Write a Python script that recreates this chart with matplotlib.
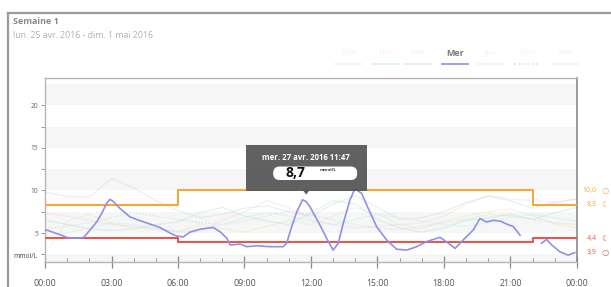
import numpy as np
import matplotlib
matplotlib.use("Agg")
import matplotlib.pyplot as plt
import matplotlib.transforms as mtransforms
from matplotlib.patches import FancyBboxPatch, Polygon, Rectangle
from matplotlib.lines import Line2D

plt.rcParams['font.family'] = ['Open Sans', 'DejaVu Sans']

# ---------------- data ----------------
title = "Semaine 1"
subtitle = "lun. 25 avr. 2016 - dim. 1 mai 2016"
days = ["Dim", "Lun", "Mar", "Mer", "Jeu", "Ven", "Sam"]
day_colors = ["#e6e3a6", "#9ee6c9", "#c4c4d0", "#8c8ce6", "#f0cfdc", "#b0b0b0", "#b9ecf0"]
active_day = "Mer"

xtick_labels = ["00:00", "03:00", "06:00", "09:00", "12:00", "15:00", "18:00", "21:00", "00:00"]
ytick_vals = [5, 10, 15, 20]

# Mer (active) glucose trace, hours / mmol/L
mer_h = [0.0, 0.08, 0.68, 0.98, 1.27, 1.58, 1.75, 2.03, 2.33, 2.56, 2.78, 2.93, 3.08, 3.38, 3.83,
         4.29, 4.74, 5.19, 5.64, 5.94, 6.24, 6.54, 6.99, 7.59, 7.9, 8.2, 8.35, 8.8, 9.1, 9.55,
         10.15, 10.75, 10.9, 11.13, 11.36, 11.62, 11.78, 11.95, 12.4, 12.78, 13.0, 13.23, 13.45,
         13.76, 13.98, 14.29, 14.51, 14.96, 15.41, 15.86, 16.32, 16.77, 17.22, 17.82, 18.2, 18.5,
         18.87, 19.32, 19.62, 19.92, 20.22, 20.53, 20.83, 21.13, 21.43, 21.9, 22.4, 22.63, 22.86,
         23.23, 23.6, 23.9]
mer_v = [5.3, 5.35, 4.8, 4.5, 4.4, 4.4, 4.5, 5.35, 6.3, 7.3, 8.5, 8.95, 8.7, 7.9, 6.9,
         6.45, 6.05, 5.65, 5.0, 4.65, 4.55, 5.1, 5.45, 5.65, 5.15, 4.4, 3.6, 3.7, 3.4, 3.5,
         3.4, 3.4, 3.8, 5.75, 7.5, 8.9, 8.7, 8.1, 5.95, 4.0, 3.0, 3.8, 6.1,
         8.9, 10.2, 9.65, 8.3, 5.75, 4.2, 3.1, 3.0, 3.4, 4.0, 4.5, 3.8, 3.2,
         4.2, 5.35, 6.7, 6.3, 6.5, 6.4, 6.05, 5.75, 4.75, np.nan, 3.8, 4.25, 3.6,
         2.8, 2.4, 2.7]

# other days (faint), hourly values
hours = list(range(25))
other_days = {
    "Dim": [2.6, 6.4, 7.2, 6.1, 5.6, 5.4, 5.2, 6.0, 5.5, 5.1, 5.8, 6.5, 6.0, 7.0, 8.0, 7.2, 6.0, 5.5, 6.4, 7.0, 7.5, 7.8, 7.0, 6.1, 5.6],
    "Lun": [6.5, 6.0, 5.5, 5.3, 5.5, 6.0, 6.3, 7.4, 8.0, 7.0, 6.4, 6.0, 7.4, 8.8, 8.4, 6.6, 5.6, 5.1, 5.6, 6.5, 6.8, 7.2, 6.6, 7.4, 8.0],
    "Mar": [9.8, 9.3, 9.2, 11.4, 10.3, 8.8, 7.6, 6.8, 7.2, 7.9, 8.2, 7.5, 7.0, 8.4, 9.4, 8.0, 6.6, 6.8, 7.5, 8.6, 9.3, 8.8, 7.9, 8.6, 9.0],
    "Jeu": [7.4, 7.0, 6.5, 6.0, 5.8, 5.5, 5.1, 5.2, 6.5, 7.5, 8.8, 8.0, 6.6, 6.0, 5.6, 5.8, 6.0, 6.2, 7.0, 8.4, 9.4, 9.0, 8.8, 8.6, 9.0],
    "Ven": [5.5, 5.8, 6.2, 6.8, 7.4, 7.0, 6.6, 6.2, 6.0, 6.4, 7.0, 7.6, 7.2, 6.5, 6.0, 5.6, 5.4, 5.8, 6.2, 6.6, 7.2, 7.0, 6.6, 6.2, 6.0],
    "Sam": [4.8, 5.0, 5.6, 6.2, 6.0, 5.6, 5.2, 5.4, 6.0, 6.8, 7.4, 7.0, 6.4, 6.0, 6.6, 7.2, 6.8, 6.4, 6.0, 5.8, 6.2, 6.8, 7.2, 6.8, 6.4],
}

# target ranges (step functions)
target_h = [0, 6, 22, 24]
upper_v = [8.3, 10.0, 8.3, 8.3]
lower_v = [4.4, 3.9, 4.4, 4.4]
right_labels = [("10,0", "○", 10.0, "#f5a83a", 0), ("8,3", "☾", 8.3, "#f5a83a", 0),
                ("4,4", "☾", 4.4, "#e8584a", 0), ("3,9", "○", 3.9, "#e8584a", -7)]

tip_h = 11 + 47 / 60
tip_v = 8.7
tip_date = "mer. 27 avr. 2016 11:47"
tip_text = "8,7"
unit = "mmol/L"

# ---------------- figure ----------------
W, H = 611, 287
fig = plt.figure(figsize=(W / 100, H / 100), dpi=100)
fig.patch.set_facecolor("white")

def fx(px):
    return px / W

def fy(py):
    return 1 - py / H

# card border
fig.add_artist(Line2D([fx(8), fx(8)], [fy(13), fy(290)], color="#9a9a9a", lw=1.6))
fig.add_artist(Line2D([fx(8), fx(615)], [fy(13), fy(13)], color="#9a9a9a", lw=1.6))

fig.text(fx(13), fy(22), title, fontsize=6.5, fontweight="bold", color="#8a8a8a", va="center", ha="left")
fig.text(fx(13), fy(36), subtitle, fontsize=6.3, color="#b0b0b0", va="center", ha="left")

# legend
leg_x = [348, 385, 418, 455, 491, 527, 565]
for i, (d, c) in enumerate(zip(days, day_colors)):
    act = d == active_day
    fig.text(fx(leg_x[i]), fy(53), d, fontsize=6.5 if act else 6, fontweight="bold" if act else "normal",
             color="#7a7a7a" if act else "#f1f1f1", ha="center", va="center")
    fig.add_artist(Line2D([fx(leg_x[i] - 13), fx(leg_x[i] + 13)], [fy(64), fy(64)], color=c,
                          lw=1.2, alpha=1 if act else 0.4, ls=":" if d == "Ven" else "-"))

ax = fig.add_axes([fx(45), fy(262), fx(577) - fx(45), fy(78) - fy(262)])
ax.set_xlim(0, 24)
ax.set_ylim(1.6, 23.2)

# bands
for lo in np.arange(0, 25, 5):
    ax.axhspan(lo, lo + 2.5, color="#f6f6f6", lw=0, zorder=0)

for d, vals in other_days.items():
    c = day_colors[days.index(d)]
    ax.plot(hours, vals, color=c if d != "Mar" else "#d0d0d0", lw=0.9, alpha=0.35,
            ls=":" if d == "Ven" else "-", zorder=1)

ax.step(target_h, upper_v, where="post", color="#f5a83a", lw=1.5, zorder=3)
ax.step(target_h, lower_v, where="post", color="#e8584a", lw=1.5, zorder=3)

ax.plot(mer_h, mer_v, color="#9090e8", lw=1.2, zorder=4)

# spines / ticks
for s in ["top", "left", "bottom"]:
    ax.spines[s].set_color("#b5b5b5")
    ax.spines[s].set_linewidth(1.0)
ax.spines["right"].set_color("#8a8a8a")
ax.spines["right"].set_linewidth(1.2)

ax.set_xticks(np.arange(0, 25, 3))
ax.set_xticklabels(xtick_labels)
ax.set_xticks(np.arange(0, 25, 1), minor=True)
ax.tick_params(axis="x", which="major", direction="inout", length=8, width=0.9, color="#888",
               labelsize=6.3, labelcolor="#555", pad=8)
ax.tick_params(axis="x", which="minor", direction="in", length=3, width=0.7, color="#999")
ax.set_yticks(ytick_vals)
ax.set_yticklabels([str(v) for v in ytick_vals])
ax.set_yticks([2.5, 7.5, 12.5, 17.5], minor=True)
ax.tick_params(axis="y", which="major", direction="out", length=3, width=0.7, color="#999",
               labelsize=4.8, labelcolor="#666", pad=2)
ax.tick_params(axis="y", which="minor", direction="out", length=3, width=0.7, color="#999")
ax.text(-0.036, 0.03, unit, transform=ax.transAxes, fontsize=4.8, color="#444", ha="center", va="center")

# right labels
trans_r = mtransforms.blended_transform_factory(ax.transAxes, ax.transData)
for txt, icon, v, c, dy in right_labels:
    ax.annotate(txt, xy=(1, v), xycoords=trans_r, xytext=(14, dy), textcoords="offset points",
                fontsize=5.0, color=c, ha="right", va="center", annotation_clip=False)
    ax.annotate(icon, xy=(1, v), xycoords=trans_r, xytext=(20, dy), textcoords="offset points",
                fontsize=6, color=c, ha="center", va="center", annotation_clip=False,
                family=["DejaVu Sans"])

# tooltip (pixel offsets relative to the data point, in inches at 100 dpi)
tt = fig.dpi_scale_trans + mtransforms.ScaledTranslation(tip_h, tip_v, ax.transData)
box = Rectangle((-0.60, 0.11), 1.21, 0.46, transform=tt, facecolor="#585858", edgecolor="none",
                alpha=0.95, zorder=10, clip_on=False)
ax.add_artist(box)
tri = Polygon([(-0.03, 0.11), (0.03, 0.11), (0.0, 0.07)], closed=True, transform=tt,
              facecolor="#585858", edgecolor="none", zorder=10, clip_on=False)
ax.add_artist(tri)
ax.text(0.0, 0.445, tip_date, transform=tt, fontsize=5.6, fontweight="bold", color="white",
        ha="center", va="center", zorder=11, clip_on=False)
pill = FancyBboxPatch((-0.33, 0.215), 0.84, 0.135, boxstyle="round,pad=0,rounding_size=0.065",
                      transform=tt, facecolor="white", edgecolor="none", zorder=11, clip_on=False)
ax.add_artist(pill)
ax.text(-0.11, 0.282, tip_text, transform=tt, fontsize=10, fontweight="bold", color="#111",
        ha="center", va="center", zorder=12, clip_on=False)
ax.text(0.22, 0.315, unit, transform=tt, fontsize=3.2, fontweight="bold", color="#333",
        ha="center", va="center", zorder=12, clip_on=False)

fig.savefig("out.png", dpi=100, facecolor="white")
